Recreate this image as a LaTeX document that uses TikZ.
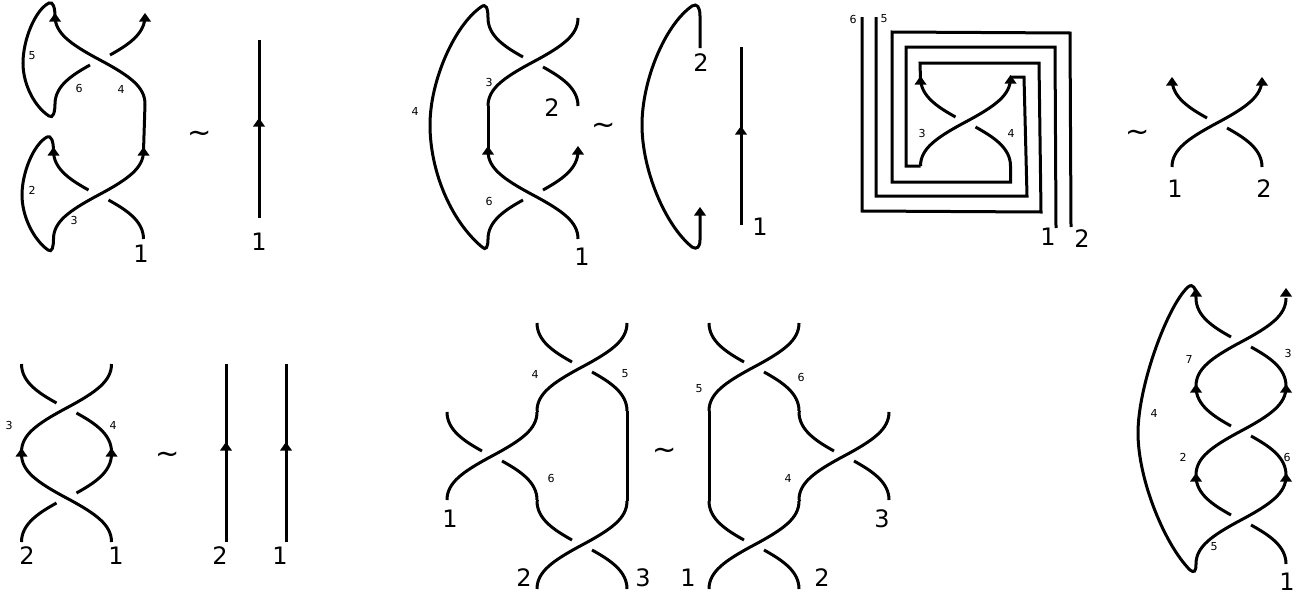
\documentclass[tikz,border=0pt]{standalone}
\usepackage{fontspec}
\setmainfont{DejaVu Sans}
\tikzset{
    strand/.style={line width=3pt},
    biglabel/.style={inner sep=0pt,font=\fontsize{24}{24}\selectfont},
    smalllabel/.style={inner sep=0pt,font=\fontsize{11}{11}\selectfont},
    wave/.style={inner sep=0pt,font=\fontsize{29}{29}\selectfont},
    crossup/.pic={
        \draw[strand] (-45,44) .. controls (-45,27) and (-30,16) .. (0,0) .. controls (30,-16) and (45,-27) .. (45,-44);
        \draw[strand] (-10,-5) .. controls (-28,-15) and (-45,-26) .. (-45,-44);
        \draw[strand] (10,5) .. controls (28,15) and (45,26) .. (45,44);
    },
    crossdown/.pic={
        \draw[strand] (45,44) .. controls (45,27) and (30,16) .. (0,0) .. controls (-30,-16) and (-45,-27) .. (-45,-44);
        \draw[strand] (10,-5) .. controls (28,-15) and (45,-26) .. (45,-44);
        \draw[strand] (-10,5) .. controls (-28,15) and (-45,26) .. (-45,44);
    },
    uptip/.pic={
        \fill (-6,8.5) -- (0,0) -- (6,8.5) -- cycle;
    }
}
\begin{document}
\begin{tikzpicture}[x=1pt,y=-1pt]
    \useasboundingbox (0,0) rectangle (1308,597);

    \pic at (100,60) {crossdown};
    \pic at (98.5,195) {crossup};
    \draw[strand] (145,104) -- (143.5,151);
    \draw[strand] (55,104) .. controls (55,112) and (53,119) .. (49,116) .. controls (35,107) and (23,85) .. (23,63) .. controls (23,40) and (35,10) .. (49,3) .. controls (53,1) and (55,8) .. (55,16);
    \draw[strand] (53.5,239) .. controls (53.5,247) and (52,253) .. (48,250) .. controls (34,240) and (22,217) .. (22,195) .. controls (22,172) and (34,144) .. (47,137) .. controls (51,135) and (53.5,141) .. (53.5,151);
    \pic at (55,13) {uptip};
    \pic at (145,13) {uptip};
    \pic at (53.5,147) {uptip};
    \pic at (143.5,147) {uptip};
    \node[smalllabel] (sceneAfive) at (32,56) {5};
    \node[smalllabel] (sceneAsix) at (79,88) {6};
    \node[smalllabel] (sceneAfour) at (121,89) {4};
    \node[smalllabel] (sceneAtwo) at (32,190) {2};
    \node[smalllabel] (sceneAthree) at (74,220) {3};
    \node[biglabel] (sceneAone) at (141,254) {1};
    \node[wave] (sceneAwave) at (200,137) {\char"223C};
    \draw[strand] (259,218) -- (259,40);
    \pic at (259,118) {uptip};
    \node[biglabel] (sceneAend) at (259,242) {1};

    \pic at (533,62) {crossup};
    \pic at (533,195) {crossdown};
    \draw[strand] (488,106) -- (488,151);
    \draw[strand] (488,239) .. controls (488,247) and (486,251) .. (482,247) .. controls (450,220) and (430,170) .. (430,125) .. controls (430,80) and (455,25) .. (481,7) .. controls (486,3) and (488,8) .. (488,18);
    \pic at (488,146) {uptip};
    \pic at (578,146) {uptip};
    \node[smalllabel] (sceneBthree) at (489,82) {3};
    \node[smalllabel] (sceneBfour) at (415,111) {4};
    \node[smalllabel] (sceneBsix) at (489,201) {6};
    \node[biglabel] (sceneBtwo) at (552,108) {2};
    \node[biglabel] (sceneBone) at (582,257) {1};
    \node[wave] (sceneBwave) at (604,129) {\char"223C};
    \draw[strand] (700,48) -- (700,16) .. controls (700,7) and (697,3) .. (692,6) .. controls (665,25) and (642,80) .. (642,125) .. controls (642,170) and (665,225) .. (692,247) .. controls (697,250) and (700,247) .. (700,240) -- (700,212);
    \pic at (700,207) {uptip};
    \node[biglabel] (sceneBtop) at (701,63) {2};
    \draw[strand] (741,225) -- (741,47);
    \pic at (741,126) {uptip};
    \node[biglabel] (sceneBend) at (760,227) {1};

    \pic at (965.5,122) {crossup};
    \draw[strand] (862,17) -- (862,211) -- (1041,212) -- (1039,63) -- (920,63) -- (920.5,80);
    \draw[strand] (876,17) -- (876,196) -- (1027,196) -- (1024,77) -- (1010.5,77);
    \draw[strand] (920.5,166) -- (906,166) -- (906,47) -- (1055,47) -- (1056,228);
    \draw[strand] (1010.5,166) -- (1010.5,182) -- (892,182) -- (892,32) -- (1070,33) -- (1071,227);
    \pic at (920.5,76) {uptip};
    \pic at (1010.5,75) {uptip};
    \node[smalllabel] (sceneCsix) at (853,19) {6};
    \node[smalllabel] (sceneCfive) at (884,19) {5};
    \node[smalllabel] (sceneCthree) at (922,133) {3};
    \node[smalllabel] (sceneCfour) at (1011,133) {4};
    \node[biglabel] (sceneCone) at (1048,237) {1};
    \node[biglabel] (sceneCtwo) at (1082,239) {2};
    \node[wave] (sceneCwave) at (1138,136) {\char"223C};
    \pic at (1217,123) {crossup};
    \pic at (1172,77) {uptip};
    \pic at (1262,77) {uptip};
    \node[biglabel] (sceneCleft) at (1175,189) {1};
    \node[biglabel] (sceneCright) at (1264,189) {2};

    \pic at (66.5,408) {crossup};
    \pic at (66.5,498) {crossdown};
    \pic at (21.5,448) {uptip};
    \pic at (111.5,448) {uptip};
    \node[smalllabel] (sceneDthree) at (9,425) {3};
    \node[smalllabel] (sceneDfour) at (113,425) {4};
    \node[biglabel] (sceneDtwo) at (27,556) {2};
    \node[biglabel] (sceneDone) at (116,556) {1};
    \node[wave] (sceneDwave) at (168,458) {\char"223C};
    \draw[strand] (226,542) -- (226,364);
    \draw[strand] (286,542) -- (286,364);
    \pic at (226,442) {uptip};
    \pic at (286,442) {uptip};
    \node[biglabel] (sceneDleft) at (220,556) {2};
    \node[biglabel] (sceneDright) at (280,556) {1};

    \pic at (582,367) {crossup};
    \pic at (492,456) {crossup};
    \pic at (582,545) {crossup};
    \draw[strand] (537,411) -- (537,412);
    \draw[strand] (537,500) -- (537,501);
    \draw[strand] (627,411) -- (627,501);
    \node[smalllabel] (sceneEfour) at (535,374) {4};
    \node[smalllabel] (sceneEfive) at (625,374) {5};
    \node[smalllabel] (sceneEsix) at (551,478) {6};
    \node[biglabel] (sceneEone) at (450,519) {1};
    \node[biglabel] (sceneEtwo) at (524,578) {2};
    \node[biglabel] (sceneEthree) at (643,578) {3};
    \node[wave] (sceneEwave) at (665,454) {\char"223C};
    \pic at (754,367) {crossup};
    \pic at (844,456) {crossup};
    \pic at (754,545) {crossup};
    \draw[strand] (799,411) -- (799,412);
    \draw[strand] (799,500) -- (799,501);
    \draw[strand] (709,411) -- (709,501);
    \node[smalllabel] (sceneFfive) at (699,389) {5};
    \node[smalllabel] (sceneFsix) at (801,377) {6};
    \node[smalllabel] (sceneFfour) at (788,478) {4};
    \node[biglabel] (sceneFthree) at (882,519) {3};
    \node[biglabel] (sceneFone) at (688,578) {1};
    \node[biglabel] (sceneFtwo) at (822,578) {2};

    \pic at (1241,342) {crossup};
    \pic at (1241,431) {crossup};
    \pic at (1241,520) {crossup};
    \draw[strand] (1196,564) .. controls (1196,572) and (1194,573) .. (1190,570) .. controls (1165,545) and (1138,480) .. (1138,433) .. controls (1138,385) and (1168,305) .. (1188,287) .. controls (1193,283) and (1196,288) .. (1196,298);
    \pic at (1196,288) {uptip};
    \pic at (1286,288) {uptip};
    \pic at (1196,384) {uptip};
    \pic at (1286,384) {uptip};
    \pic at (1196,473) {uptip};
    \pic at (1286,473) {uptip};
    \node[smalllabel] (sceneGseven) at (1189,359) {7};
    \node[smalllabel] (sceneGthree) at (1288,353) {3};
    \node[smalllabel] (sceneGfour) at (1154,413) {4};
    \node[smalllabel] (sceneGtwo) at (1183,457) {2};
    \node[smalllabel] (sceneGsix) at (1287,457) {6};
    \node[smalllabel] (sceneGfive) at (1214,547) {5};
    \node[biglabel] (sceneGone) at (1287,582) {1};
\end{tikzpicture}
\end{document}
